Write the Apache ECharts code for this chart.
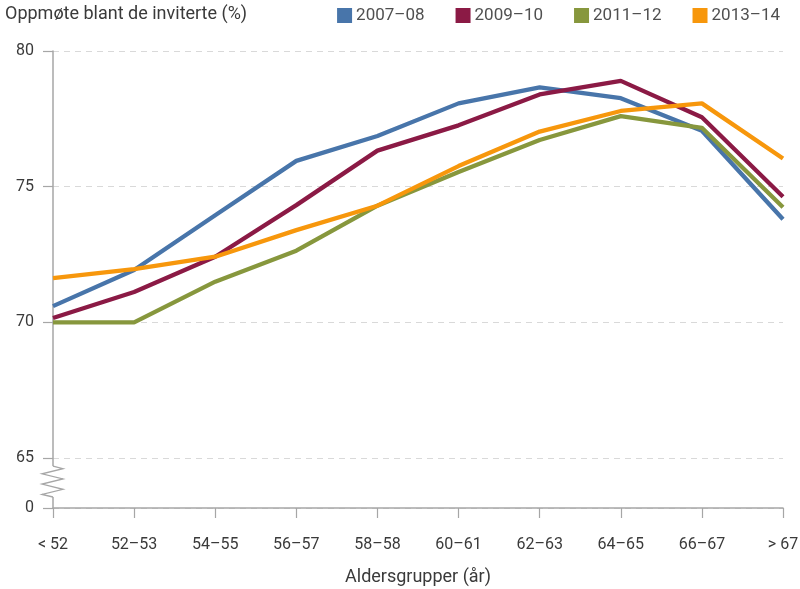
<!DOCTYPE html>
<html><head><meta charset="utf-8">
<script src="https://cdn.jsdelivr.net/npm/echarts@6/dist/echarts.min.js"></script>
<style>html,body{margin:0;padding:0;background:#fff}#c{width:800px;height:589px}</style>
</head><body><div id="c"></div>
<script>
const categories = ['< 52','52–53','54–55','56–57','58–58','60–61','62–63','64–65','66–67','> 67'];
const seriesNames = ['2007–08','2009–10','2011–12','2013–14'];
const s2007 = [70.6,71.93,73.95,75.95,76.87,78.07,78.66,78.26,77.06,73.8];
const s2009 = [70.16,71.12,72.42,74.32,76.33,77.26,78.4,78.9,77.56,74.63];
const s2011 = [70.0,70.0,71.5,72.64,74.3,75.54,76.72,77.6,77.17,74.24];
const s2013 = [71.63,71.96,72.42,73.4,74.3,75.76,77.03,77.79,78.07,76.04];
const yAxisTop = 80;
const yBreakValue = 65;      // lowest real tick above the axis break
const yBreakBottom = 63.16;  // axis bottom, labelled as 0
const yBottomLabel = '0';

const colors = ['#4875AA','#8B1A45','#87973D','#F7970C'];
const txt = '#3a3a3a';
const axisCol = '#a6a6a6';
const font = 'Roboto';

const chart = echarts.init(document.getElementById('c'), null, {renderer:'canvas'});
const dataArr = [s2007, s2009, s2011, s2013];
chart.setOption({
  animation:false,
  color: colors,
  title:{text:'Oppmøte blant de inviterte (%)', left:0, top:0,
    textStyle:{fontFamily:font, fontSize:18, fontWeight:'normal', color:txt}},
  legend:{right:15, top:2, icon:'rect', itemWidth:15, itemHeight:15, itemGap:31,
    textStyle:{fontFamily:font, fontSize:17, color:'#505050', padding:[0,0,0,-1]},
    data: seriesNames},
  grid:{left:53, right:17, top:51, bottom:81, containLabel:false, outerBoundsMode:'none'},
  xAxis:{type:'category', data:categories, boundaryGap:false,
    name:'Aldersgrupper (år)', nameLocation:'middle', nameGap:60,
    nameTextStyle:{fontFamily:font, fontSize:18, color:txt},
    axisLine:{lineStyle:{color:axisCol, width:1.5}},
    axisTick:{show:true, alignWithLabel:true, length:10, lineStyle:{color:axisCol, width:1.2}},
    axisLabel:{margin:29, fontFamily:font, fontSize:16, color:txt},
    splitLine:{show:false}},
  yAxis:{type:'value', min:yBreakBottom, max:yAxisTop, minInterval:5, maxInterval:5,
    axisLine:{show:true, lineStyle:{color:axisCol, width:1.5}},
    axisTick:{show:true, length:10, lineStyle:{color:axisCol, width:1.2}},
    axisLabel:{margin:19, fontFamily:font, fontSize:16, color:txt, showMinLabel:true, showMaxLabel:true,
      formatter: v => v < yBreakValue - 0.5 ? yBottomLabel : String(Math.round(v))},
    splitLine:{show:true, lineStyle:{color:'#d9d9d9', type:[6,5], width:1}}},
  series: seriesNames.map((n,i)=>({name:n, type:'line', data:dataArr[i], symbol:'none',
    lineStyle:{width:4.3, color:colors[i]}, itemStyle:{color:colors[i]}, z: 2+i}))
});

// axis-break zigzag on the y axis line
(function(){
  const ay = chart.convertToPixel({yAxisIndex:0}, yBreakValue);
  const by = chart.convertToPixel({yAxisIndex:0}, yBreakBottom);
  const x0 = chart.convertToPixel({xAxisIndex:0}, 0);
  const zTop = ay + 8, zBot = by - 11;
  const n = 6, pts = [[x0, zTop]];
  for (let i = 1; i <= n; i++) {
    const y = zTop + (zBot - zTop) * (i - 0.5) / n;
    pts.push([i % 2 ? x0 + 10 : x0 - 11, y]);
  }
  pts.push([x0, zBot]);
  chart.setOption({graphic:[
    {type:'rect', shape:{x:x0-2, y:zTop, width:4, height:zBot-zTop}, style:{fill:'#fff'}, z:100},
    {type:'polyline', shape:{points:pts}, style:{stroke:axisCol, lineWidth:1.3, fill:null}, z:101}
  ]});
})();
</script></body></html>
